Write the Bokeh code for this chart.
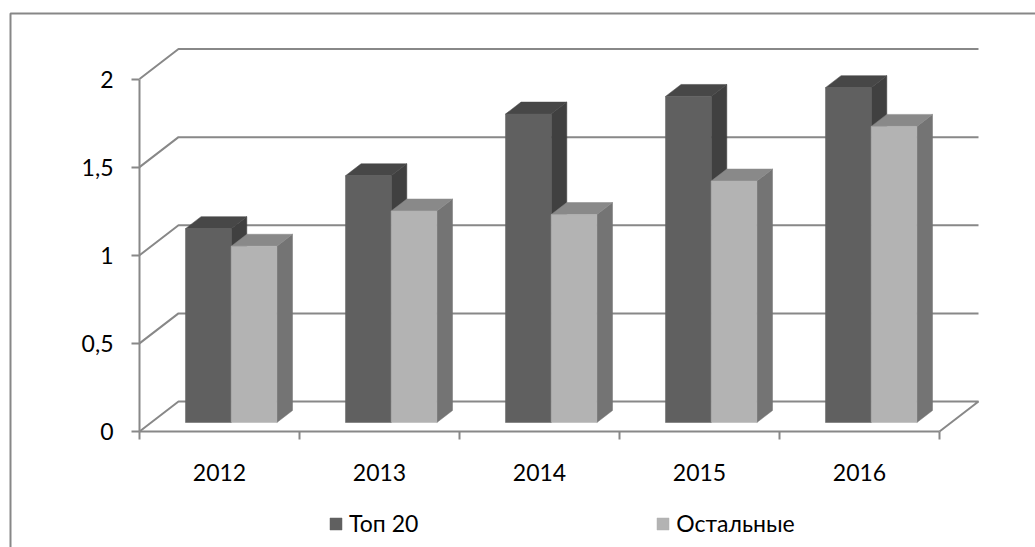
from bokeh.plotting import figure
from bokeh.models import FixedTicker, Legend, LegendItem, Range1d
from bokeh.embed import file_html
from bokeh.resources import INLINE

# ---- data -------------------------------------------------------------
years = ["2012", "2013", "2014", "2015", "2016"]
top20 = [1.1, 1.4, 1.75, 1.85, 1.9]
others = [1.0, 1.2, 1.18, 1.37, 1.68]
series_names = ["Топ 20", "Остальные"]
y_ticks = [0, 0.5, 1, 1.5, 2]
y_tick_labels = ["0", "0,5", "1", "1,5", "2"]

# ---- geometry of the oblique 3-D column view ---------------------------
W, H = 1035, 547
ORIGIN_PX = (139, 431)   # canvas position of the front-plane origin (x=0, y=0)
CAT_PX = 160.0           # pixels per category
UNIT_PX = 176.25         # pixels per value unit
DEPTH_PX = (39.0, 30.0)  # screen shift from the front plane to the back wall
GAP_WIDTH = 1.5          # gap between clusters, as a fraction of one bar
GAP_DEPTH = 1.5          # depth gap, as a fraction of the bar depth

GRID_COLOR = "#888888"
FONT = "Lato"
FONT_SIZE = "23px"

# colours: (front, top, side)
FACE_COLORS = [
    ("#606060", "#474747", "#404040"),
    ("#b3b3b3", "#898989", "#747474"),
]

# the plotting frame covers the whole canvas; data origin sits at ORIGIN_PX
x_start = -ORIGIN_PX[0] / CAT_PX
x_end = (W - ORIGIN_PX[0]) / CAT_PX
y_start = -(H - ORIGIN_PX[1]) / UNIT_PX
y_end = ORIGIN_PX[1] / UNIT_PX
ddx = DEPTH_PX[0] / CAT_PX
ddy = DEPTH_PX[1] / UNIT_PX

n_cat = len(years)
n_ser = len(series_names)
bar_w = 1.0 / (n_ser + GAP_WIDTH)
d_front = (GAP_DEPTH / 2) / (1 + GAP_DEPTH)
d_back = d_front + 1 / (1 + GAP_DEPTH)


def poly(points):
    xs, ys = [], []
    for x, y, d in points:
        xs.append(x + d * ddx)
        ys.append(y + d * ddy)
    return xs, ys


def px_to_data(px, py):
    return (px - ORIGIN_PX[0]) / CAT_PX, (ORIGIN_PX[1] - py) / UNIT_PX


p = figure(
    width=W, height=H,
    x_range=Range1d(x_start, x_end), y_range=Range1d(y_start, y_end),
    min_border=0,
    toolbar_location=None, output_backend="svg",
    background_fill_color="white", border_fill_color="white",
)
p.outline_line_color = None
p.xgrid.visible = False
p.ygrid.visible = False

# ---- chart-area border (left and top edges) ------------------------------
bx0, by0 = px_to_data(10, H + 5)
bx1, by1 = px_to_data(10, 13)
bx2, by2 = px_to_data(W + 5, 13)
p.line([bx0, bx1, bx2], [by0, by1, by2], line_color="#878787", line_width=2)

# ---- walls: side-wall diagonals, back-wall gridlines and the floor -------
wall_xs, wall_ys = [], []
for v in y_ticks:
    if v == 0:
        pts = [(0, 0, 0), (0, 0, 1), (n_cat, 0, 1), (n_cat, 0, 0)]
    else:
        pts = [(0, v, 0), (0, v, 1), (n_cat, v, 1)]
    xs, ys = poly(pts)
    wall_xs.append(xs)
    wall_ys.append(ys)
p.multi_line(wall_xs, wall_ys, line_color=GRID_COLOR, line_width=2)

# ---- columns ------------------------------------------------------------
legend_items = []
for s, values in enumerate([top20, others]):
    front_c, top_c, side_c = FACE_COLORS[s]
    fx, fy, tx, ty, sx_, sy_ = [], [], [], [], [], []
    for i, v in enumerate(values):
        x0 = i + (GAP_WIDTH / 2) * bar_w + s * bar_w
        x1 = x0 + bar_w
        xs, ys = poly([(x1, 0, d_front), (x1, v, d_front), (x1, v, d_back), (x1, 0, d_back)])
        sx_.append(xs); sy_.append(ys)
        xs, ys = poly([(x0, v, d_front), (x1, v, d_front), (x1, v, d_back), (x0, v, d_back)])
        tx.append(xs); ty.append(ys)
        xs, ys = poly([(x0, 0, d_front), (x1, 0, d_front), (x1, v, d_front), (x0, v, d_front)])
        fx.append(xs); fy.append(ys)
    p.patches(sx_, sy_, fill_color=side_c, line_color=side_c, line_width=0.5)
    p.patches(tx, ty, fill_color=top_c, line_color=top_c, line_width=0.5)
    r_front = p.patches(fx, fy, fill_color=front_c, line_color=front_c, line_width=0.5)
    legend_items.append(LegendItem(label=series_names[s], renderers=[r_front]))

# ---- axes, pinned to the front-plane origin -------------------------------
yax = p.yaxis[0]
yax.fixed_location = 0
yax.ticker = FixedTicker(ticks=y_ticks, minor_ticks=[])
yax.major_label_overrides = {t: lab for t, lab in zip(y_ticks, y_tick_labels)}
yax.bounds = (0, max(y_ticks))
yax.axis_line_color = GRID_COLOR
yax.axis_line_width = 2
yax.major_tick_line_color = GRID_COLOR
yax.major_tick_line_width = 2
yax.major_tick_out = 8
yax.major_tick_in = 0
yax.minor_tick_line_color = None
yax.major_label_standoff = 18
yax.major_label_text_font = FONT
yax.major_label_text_font_size = FONT_SIZE
yax.major_label_text_color = "black"

centers = [i + 0.5 for i in range(n_cat)]
xax = p.xaxis[0]
xax.fixed_location = 0
xax.ticker = FixedTicker(ticks=centers, minor_ticks=list(range(n_cat + 1)))
xax.major_label_overrides = {c: y for c, y in zip(centers, years)}
xax.bounds = (0, n_cat)
xax.axis_line_color = GRID_COLOR
xax.axis_line_width = 2
xax.major_tick_line_color = None
xax.major_tick_out = 0
xax.major_tick_in = 0
xax.minor_tick_line_color = GRID_COLOR
xax.minor_tick_line_width = 2
xax.minor_tick_out = 8
xax.minor_tick_in = 0
xax.major_label_standoff = 24
xax.major_label_text_font = FONT
xax.major_label_text_font_size = FONT_SIZE
xax.major_label_text_color = "black"

# ---- legend -------------------------------------------------------------
legend = Legend(
    items=legend_items, orientation="horizontal",
    location=(328, 10),
    glyph_width=15, glyph_height=15, label_standoff=6, spacing=237,
    padding=0, margin=0,
    border_line_color=None, background_fill_alpha=0,
    label_text_font=FONT, label_text_font_size=FONT_SIZE, label_text_color="black",
)
p.add_layout(legend, "center")

open("out.html", "w").write(file_html(p, INLINE))
